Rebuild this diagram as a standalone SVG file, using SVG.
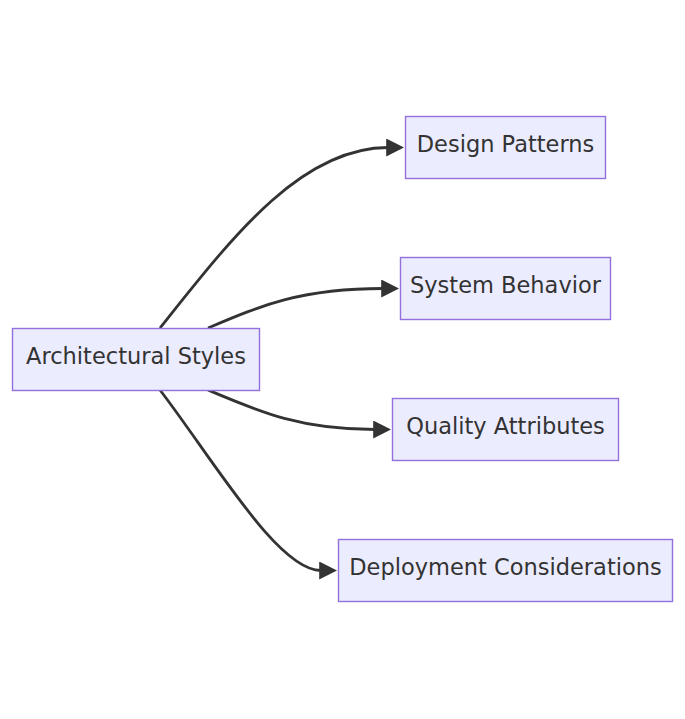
<svg xmlns="http://www.w3.org/2000/svg" width="685" height="719" viewBox="0 0 685 719">
<style>
.node rect{fill:#ECECFF;stroke:#9370DB;stroke-width:1.4}
.node text{font-family:"DejaVu Sans",Verdana,sans-serif;font-size:22.5px;fill:#333333;text-anchor:middle}
.edge{fill:none;stroke:#333333;stroke-width:2.8}
</style>
<defs>
<marker id="arrow" viewBox="0 0 10 10" refX="1" refY="5" markerUnits="userSpaceOnUse" markerWidth="18" markerHeight="18" orient="auto">
<path d="M0,0 L10,5 L0,10 z" fill="#333333"/>
</marker>
</defs>
<rect width="685" height="719" fill="#ffffff"/>
<g id="connectors">
<path class="edge" d="M160,328 C230,240 300,147.5 388,147.5" marker-end="url(#arrow)"/>
<path class="edge" d="M208,328 C260,306 300,288.5 383,288.5" marker-end="url(#arrow)"/>
<path class="edge" d="M208,390 C260,412 300,429.5 375,429.5" marker-end="url(#arrow)"/>
<path class="edge" d="M160,390 C215,462 278,570.5 321,570.5" marker-end="url(#arrow)"/>
</g>
<g id="node-arch" class="node">
<rect x="12.5" y="328.5" width="247" height="62"/>
<text x="136" y="363.5">Architectural Styles</text>
</g>
<g id="node-design" class="node">
<rect x="405.5" y="116.5" width="200" height="62"/>
<text x="505.5" y="151.5">Design Patterns</text>
</g>
<g id="node-behavior" class="node">
<rect x="400.5" y="257.5" width="210" height="62"/>
<text x="505.5" y="292.5">System Behavior</text>
</g>
<g id="node-quality" class="node">
<rect x="392.5" y="398.5" width="226" height="62"/>
<text x="505.5" y="433.5">Quality Attributes</text>
</g>
<g id="node-deploy" class="node">
<rect x="338.5" y="539.5" width="334" height="62"/>
<text x="505.5" y="574.5">Deployment Considerations</text>
</g>
</svg>
